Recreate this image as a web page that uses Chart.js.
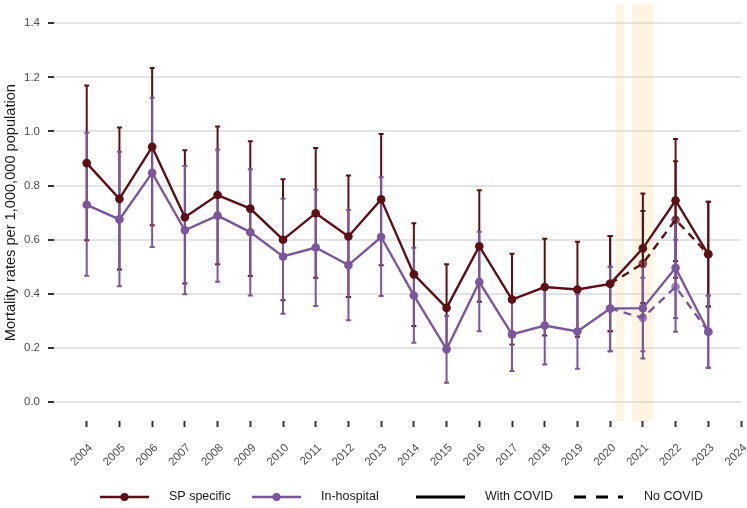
<!DOCTYPE html>
<html><head><meta charset="utf-8">
<script src="https://cdn.jsdelivr.net/npm/chart.js@4.4.1/dist/chart.umd.min.js"></script>
<style>html,body{margin:0;padding:0;background:#fff}#wrap{width:747px;height:508px;position:relative}</style>
</head><body><div id="wrap"><canvas id="c" width="747" height="508"></canvas></div>
<script>
// ---- data ----
const years = [2004,2005,2006,2007,2008,2009,2010,2011,2012,2013,2014,2015,2016,2017,2018,2019,2020,2021,2022,2023];
const xTicks = [2004,2005,2006,2007,2008,2009,2010,2011,2012,2013,2014,2015,2016,2017,2018,2019,2020,2021,2022,2023,2024];
const yTicks = [0,0.2,0.4,0.6,0.8,1.0,1.2,1.4];

const spEst  = [0.883,0.751,0.943,0.683,0.765,0.715,0.600,0.698,0.612,0.749,0.472,0.348,0.576,0.379,0.425,0.416,0.437,0.568,0.745,0.546];
const spLow  = [0.598,0.490,0.653,0.438,0.509,0.466,0.376,0.459,0.388,0.506,0.281,0.190,0.371,0.213,0.246,0.241,0.262,0.366,0.521,0.353];
const spHigh = [1.170,1.015,1.235,0.931,1.018,0.964,0.823,0.939,0.837,0.991,0.661,0.509,0.783,0.548,0.604,0.592,0.614,0.771,0.972,0.740];

const hospEst  = [0.729,0.675,0.847,0.635,0.689,0.628,0.538,0.571,0.506,0.610,0.394,0.195,0.444,0.250,0.283,0.261,0.346,0.347,0.496,0.260];
const hospLow  = [0.467,0.428,0.573,0.398,0.445,0.394,0.326,0.355,0.302,0.392,0.219,0.071,0.262,0.115,0.139,0.123,0.188,0.188,0.311,0.127];
const hospHigh = [0.995,0.925,1.125,0.872,0.932,0.860,0.751,0.786,0.710,0.831,0.570,0.318,0.629,0.380,0.420,0.398,0.500,0.500,0.680,0.394];

// "No COVID" (excluding COVID) estimates
const noCovidYears = [2020,2021,2022,2023];
const spNoEst   = [0.437,0.512,0.674,0.546];
const spNoLow   = [0.262,0.320,0.459,0.353];
const spNoHigh  = [0.614,0.706,0.890,0.740];
const hospNoEst  = [0.346,0.311,0.426,0.260];
const hospNoLow  = [0.188,0.161,0.260,0.127];
const hospNoHigh = [0.500,0.459,0.600,0.394];

// COVID wave periods (shaded)
const covidStart = [2020.17, 2020.67];
const covidEnd   = [2020.42, 2021.33];

const legendLabels = ['SP specific','In-hospital','With COVID','No COVID'];
const yTitle = 'Mortality rates per 1,000,000 population';

// ---- styles ----
const RED = '#5b0f16';
const PURPLE = '#7b569c';
const RED_A = 'rgba(91,15,22,0.72)';
const PURPLE_A = 'rgba(123,86,156,0.72)';
const FONT = '"Liberation Sans", Arial, sans-serif';

const pts = (xs, ys) => xs.map((x,i)=>({x, y: ys[i]}));

const bandPlugin = {
  id: 'bands',
  beforeDatasetsDraw(chart) {
    const {ctx, chartArea, scales:{x}} = chart;
    ctx.save();
    ctx.fillStyle = 'rgba(245,200,110,0.2)';
    covidStart.forEach((s,i)=>{
      const a = x.getPixelForValue(s), b = x.getPixelForValue(covidEnd[i]);
      ctx.fillRect(a, chartArea.top, b-a, chartArea.bottom-chartArea.top);
    });
    ctx.restore();
    // error bars
    const drawBars = (xs, lo, hi, color) => {
      const y = chart.scales.y;
      ctx.save();
      ctx.strokeStyle = color; ctx.lineWidth = 2;
      xs.forEach((xv,i)=>{
        const px = x.getPixelForValue(xv);
        const p1 = y.getPixelForValue(lo[i]), p2 = y.getPixelForValue(hi[i]);
        ctx.beginPath(); ctx.moveTo(px,p1); ctx.lineTo(px,p2); ctx.stroke();
        ctx.beginPath();
        ctx.moveTo(px-2.5,p1); ctx.lineTo(px+2.5,p1);
        ctx.moveTo(px-2.5,p2); ctx.lineTo(px+2.5,p2);
        ctx.stroke();
      });
      ctx.restore();
    };
    drawBars(noCovidYears, spNoLow, spNoHigh, RED);
    drawBars(years, spLow, spHigh, RED);
    drawBars(noCovidYears, hospNoLow, hospNoHigh, PURPLE);
    drawBars(years, hospLow, hospHigh, PURPLE);
  }
};

const legendPlugin = {
  id: 'customLegend',
  afterDraw(chart) {
    const ctx = chart.ctx;
    const y = 497;
    ctx.save();
    ctx.lineWidth = 2.6;
    ctx.strokeStyle = RED; ctx.beginPath(); ctx.moveTo(100,y); ctx.lineTo(149,y); ctx.stroke();
    ctx.fillStyle = RED; ctx.beginPath(); ctx.arc(124.5,y,4,0,Math.PI*2); ctx.fill();
    ctx.strokeStyle = PURPLE; ctx.beginPath(); ctx.moveTo(252,y); ctx.lineTo(301,y); ctx.stroke();
    ctx.fillStyle = PURPLE; ctx.beginPath(); ctx.arc(276.5,y,4,0,Math.PI*2); ctx.fill();
    ctx.strokeStyle = '#000'; ctx.lineWidth = 2.8;
    ctx.beginPath(); ctx.moveTo(416,y); ctx.lineTo(465,y); ctx.stroke();
    ctx.setLineDash([12,10]);
    ctx.beginPath(); ctx.moveTo(574,y); ctx.lineTo(623,y); ctx.stroke();
    ctx.setLineDash([]);
    ctx.fillStyle = '#1a1a1a';
    ctx.font = '12.5px ' + FONT;
    ctx.textBaseline = 'middle';
    ctx.textAlign = 'left';
    ctx.fillText(legendLabels[0], 169, y);
    ctx.fillText(legendLabels[1], 321, y);
    ctx.fillText(legendLabels[2], 485, y);
    ctx.fillText(legendLabels[3], 644, y);
    ctx.restore();
  }
};

new Chart(document.getElementById('c'), {
  type: 'line',
  data: {
    datasets: [
      { label: legendLabels[0], data: pts(years, spEst), borderColor: RED, backgroundColor: RED,
        borderWidth: 2.4, pointRadius: 4.3, pointBorderWidth: 0, pointBackgroundColor: RED, order: 1 },
      { label: legendLabels[1], data: pts(years, hospEst), borderColor: PURPLE, backgroundColor: PURPLE,
        borderWidth: 2.4, pointRadius: 4.3, pointBorderWidth: 0, pointBackgroundColor: PURPLE, order: 2 },
      { label: legendLabels[0] + ' (no COVID)', data: pts(noCovidYears, spNoEst), borderColor: RED, backgroundColor: RED_A,
        borderWidth: 2.4, borderDash: [8,6], pointRadius: 4.3, pointBorderWidth: 0, pointBackgroundColor: RED_A, order: 3 },
      { label: legendLabels[1] + ' (no COVID)', data: pts(noCovidYears, hospNoEst), borderColor: PURPLE, backgroundColor: PURPLE_A,
        borderWidth: 2.4, borderDash: [8,6], pointRadius: 4.3, pointBorderWidth: 0, pointBackgroundColor: PURPLE_A, order: 4 }
    ]
  },
  options: {
    responsive: false,
    animation: false,
    devicePixelRatio: 1,
    layout: { padding: { top: 3, right: 6, bottom: 0, left: 0 } },
    plugins: { legend: { display: false }, tooltip: { enabled: false } },
    scales: {
      x: {
        type: 'linear', min: 2003, max: 2024,
        afterBuildTicks: ax => { ax.ticks = xTicks.map(v=>({value:v})); },
        afterFit: sc => { sc.height = 87; sc.paddingLeft = 0; sc.paddingRight = 0; },
        border: { display: false },
        grid: { drawOnChartArea: false, drawTicks: true, tickLength: 6, tickColor: '#333', tickWidth: 2 },
        ticks: { autoSkip: false, maxRotation: 45, minRotation: 45, padding: 14, labelOffset: 4, color: '#4d4d4d',
                 font: { family: FONT, size: 11.5 }, callback: v => String(v) }
      },
      y: {
        type: 'linear', min: -0.07, max: 1.47,
        afterBuildTicks: ax => { ax.ticks = yTicks.map(v=>({value:v})); },
        afterFit: sc => { sc.width = 54; sc.paddingTop = 0; sc.paddingBottom = 0; },
        border: { display: false },
        grid: { color: '#e4e4e4', lineWidth: 2, drawTicks: true, tickLength: 6, tickColor: '#333', tickWidth: 2 },
        ticks: { padding: 8, color: '#4d4d4d', font: { family: FONT, size: 11.5 }, callback: v => v.toFixed(1) },
        title: { display: true, text: yTitle, color: '#1a1a1a', font: { family: FONT, size: 14.6 }, padding: { top: 2, bottom: 0 } }
      }
    }
  },
  plugins: [bandPlugin, legendPlugin]
});
</script>
</body></html>
